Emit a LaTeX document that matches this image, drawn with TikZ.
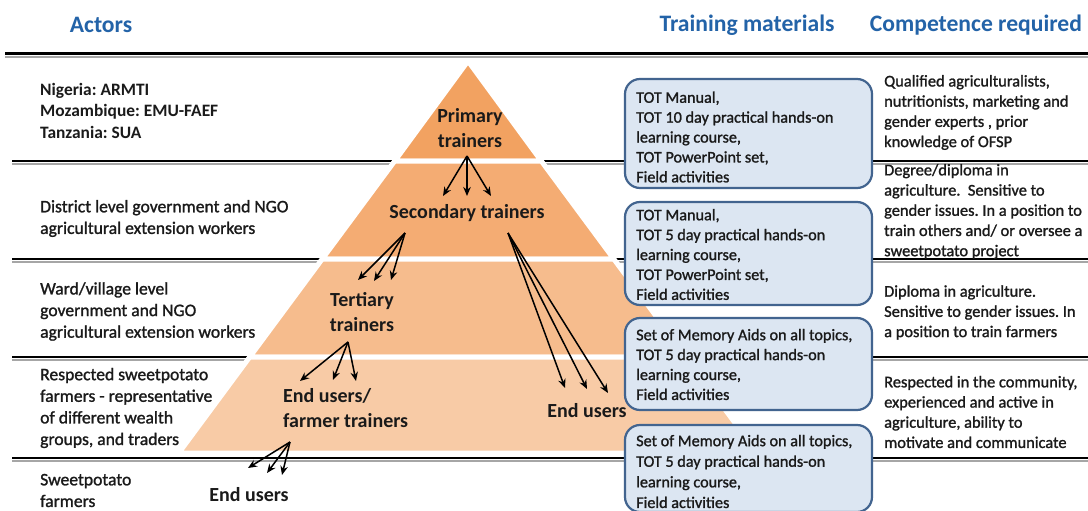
\documentclass[tikz,border=0pt]{standalone}
\usepackage{fontspec}
\setmainfont{Carlito}
\newfontfamily\rtext{Carlito}[FakeBold=1.3]
\usetikzlibrary{arrows.meta}
\definecolor{hblue}{HTML}{2363A8}
\definecolor{bandA}{HTML}{F2A261}
\definecolor{bandB}{HTML}{F4AC73}
\definecolor{bandC}{HTML}{F6BC8D}
\definecolor{bandD}{HTML}{F8CBA6}
\definecolor{boxfill}{HTML}{DCE6F2}
\definecolor{boxline}{HTML}{42648F}
\definecolor{ink}{HTML}{1A1A1A}
\begin{document}
\begin{tikzpicture}[x=1pt,y=-1pt,
  hdr/.style={font={\fontsize{23.6}{28}\selectfont\bfseries}, text=hblue, inner sep=0},
  actor/.style={font={\fontsize{17.6}{21.6}\selectfont\rtext\frenchspacing}, text=ink, align=left, anchor=west, inner sep=0},
  actorb/.style={actor, font={\fontsize{17.4}{21.5}\selectfont\bfseries\frenchspacing}},
  comp/.style={font={\fontsize{16.4}{20.2}\selectfont\rtext\frenchspacing}, text=ink, align=left, anchor=west, inner sep=0},
  pyr/.style={font={\fontsize{20}{25}\selectfont\bfseries}, text=ink, align=center, inner sep=0},
  matbox/.style={draw=boxline, fill=boxfill, line width=2.2, rounded corners=15,
    minimum width=247, inner sep=0},
  mattext/.style={font={\fontsize{16.2}{19.9}\selectfont\rtext\frenchspacing}, text=ink, align=left, anchor=west, inner sep=0},
  arr/.style={-{Stealth[length=9,width=7.5]}, line width=1.5, draw=black},
  rule/.style={line width=2.4, draw=black},
  ruleshadow/.style={line width=2, draw=black!35},
  band/.style={draw=white, line width=5, line join=round}
]
\useasboundingbox (0,0) rectangle (1088,511);
\fill[white] (0,0) rectangle (1088,511);

% headers
\node[hdr] (hA) at (101,25) {Actors};
\node[hdr] (hT) at (747,25) {Training materials};
\node[hdr] (hC) at (976,25) {Competence required};

% horizontal rules
\draw[ruleshadow] (5,57) -- (1088,57);
\draw[rule, line width=3] (5,54) -- (1088,54);
\foreach \yy in {161,259,357,458}{
  \draw[ruleshadow] (12,\yy+2.5) -- (1088,\yy+2.5);
  \draw[rule] (12,\yy) -- (1088,\yy);
}

% pyramid bands
\filldraw[band, fill=bandA] (468,61) -- (541.3,161) -- (394.7,161) -- cycle;
\filldraw[band, fill=bandB] (394.7,161) -- (541.3,161) -- (613.8,259) -- (322.2,259) -- cycle;
\filldraw[band, fill=bandC] (322.2,259) -- (613.8,259) -- (686.3,357) -- (249.7,357) -- cycle;
\filldraw[band, fill=bandD] (249.7,357) -- (686.3,357) -- (757.3,453) -- (178.7,453) -- cycle;

% actors
\node[actorb] (a1) at (40,110.5) {Nigeria: ARMTI\\Mozambique: EMU-FAEF\\Tanzania: SUA};
\node[actor] (a2) at (40,218.5) {District level government and NGO\\agricultural extension workers};
\node[actor] (a3) at (40,311.5) {Ward/village level\\government and NGO\\agricultural extension workers};
\node[actor] (a4) at (40,408) {Respected sweetpotato\\farmers - representative\\of different wealth\\groups, and traders};
\node[actor] (a5) at (40,490.5) {Sweetpotato\\farmers};

% pyramid labels
\node[pyr] (prim) at (470,128.5) {Primary\\trainers};
\node[pyr] (sec) at (467,213) {Secondary trainers};
\node[pyr] (tert) at (362,312) {Tertiary\\trainers};
\node[pyr, align=left, anchor=west] (far) at (283,408.5) {End users/\\farmer trainers};
\node[pyr] (euR) at (587,411) {End users};
\node[pyr] (euB) at (249,495) {End users};

% arrow coordinates
\coordinate (p0) at (467,156);
\coordinate (p1) at (443,196); \coordinate (p2) at (467,196); \coordinate (p3) at (491,196);
\coordinate (s0) at (405,233);
\coordinate (s1) at (358,280); \coordinate (s2) at (374,281); \coordinate (s3) at (391,280);
\coordinate (r0) at (508,233);
\coordinate (r1) at (565,388); \coordinate (r2) at (587,389); \coordinate (r3) at (608,393);
\coordinate (t0) at (348,342);
\coordinate (t1) at (300,381); \coordinate (t2) at (333,380); \coordinate (t3) at (356,381);
\coordinate (f0) at (290,442);
\coordinate (f1) at (248,468); \coordinate (f2) at (267,473); \coordinate (f3) at (282,475);
\foreach \o/\e in {p0/p1,p0/p2,p0/p3,s0/s1,s0/s2,s0/s3,r0/r1,r0/r2,r0/r3,t0/t1,t0/t2,t0/t3,f0/f1,f0/f2,f0/f3}{
  \draw[arr] (\o) -- (\e);
}

% training materials
\node[matbox, minimum height=109] (m1) at (748.5,133.5) {};
\node[matbox, minimum height=103] (m2) at (748.5,253.5) {};
\node[matbox, minimum height=92] (m3) at (748.5,364) {};
\node[matbox, minimum height=87] (m4) at (748.5,468.5) {};
\node[mattext] (mt1) at (636,137) {TOT Manual,\\TOT 10 day practical hands-on\\learning course,\\TOT PowerPoint set,\\Field activities};
\node[mattext] (mt2) at (636,254.5) {TOT Manual,\\TOT 5 day practical hands-on\\learning course,\\TOT PowerPoint set,\\Field activities};
\node[mattext] (mt3) at (636,364.5) {Set of Memory Aids on all topics,\\TOT 5 day practical hands-on\\learning course,\\Field activities};
\node[mattext, font={\fontsize{16.2}{20.6}\selectfont\rtext\frenchspacing}] (mt4) at (636,471.5) {Set of Memory Aids on all topics,\\TOT 5 day practical hands-on\\learning course,\\Field activities};

% competence
\node[comp] (c1) at (884,112.5) {Qualified agriculturalists,\\nutritionists, marketing and\\gender experts , prior\\knowledge of OFSP};
\node[comp] (c2) at (884,211.5) {Degree/diploma in\\agriculture.\ \ Sensitive to\\gender issues. In a position to\\train others and/ or oversee a\\sweetpotato project};
\node[comp] (c3) at (884,312.5) {Diploma in agriculture.\\Sensitive to gender issues. In\\a position to train farmers};
\node[comp] (c4) at (884,412) {Respected in the community,\\experienced and active in\\agriculture, ability to\\motivate and communicate};
\end{tikzpicture}
\end{document}
